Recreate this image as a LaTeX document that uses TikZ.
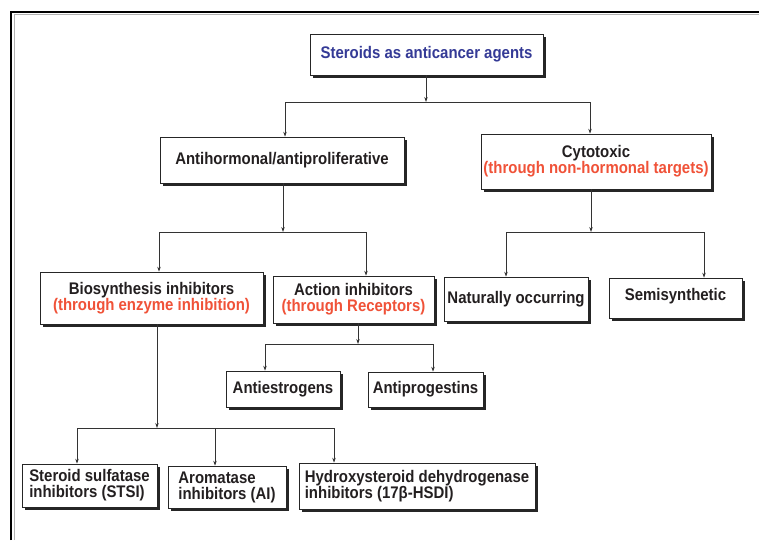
\documentclass[tikz,border=0pt]{standalone}
\usepackage{fontspec}
\setmainfont[FakeStretch=0.89]{Liberation Sans}
\usetikzlibrary{arrows.meta,shadows}
\definecolor{titleblue}{RGB}{52,58,150}
\definecolor{notered}{RGB}{240,82,56}
\definecolor{ink}{RGB}{35,31,32}
\newcommand{\via}[1]{\textcolor{notered}{#1}}
\tikzset{
  box/.style={draw=black!85, line width=0.6pt, fill=white, inner sep=0pt, align=center,
    text=ink, font=\fontsize{16.8}{16}\selectfont\bfseries,
    drop shadow={shadow xshift=2.6pt, shadow yshift=-2.6pt, fill=black!85, opacity=1}},
  conn/.style={draw=black!80, line width=0.7pt, -{Stealth[length=5pt,width=3.4pt]}}
}

\begin{document}
\begin{tikzpicture}[x=1pt, y=-1pt]
		%%%%% START %%%%%
		\useasboundingbox (0, 0) rectangle (759, 540);
		
		% frame
		\draw[black!30, line width=0.8pt] (14, 540) -- (14, 14.5) -- (759, 14.5);
		\draw[black, line width=1.3pt] (11, 540) -- (11, 12) -- (759, 12);
		
		% boxes
		\node[box, minimum width=233pt, minimum height=41pt, text=titleblue] (top) at (426.5, 54.5) {Steroids as anticancer agents};
		\node[box, minimum width=244pt, minimum height=46pt] (anti) at (282, 160) {Antihormonal/antiproliferative};
		\node[box, minimum width=230pt, minimum height=55pt] (cyto) at (596, 161.5) {Cytotoxic\\\via{(through non-hormonal targets)}};
		
		\node[box, minimum width=223pt, minimum height=52pt] (bio) at (151.5, 298) {Biosynthesis inhibitors\\\via{(through enzyme inhibition)}};
		\node[box, minimum width=161pt, minimum height=47pt] (act) at (353.5, 299.5) {Action inhibitors\\\via{(through Receptors)}};
		\node[box, minimum width=144pt, minimum height=44pt] (nat) at (516, 299) {Naturally occurring};
		\node[box, minimum width=133pt, minimum height=40pt] (semi) at (675.5, 298) {\raisebox{7pt}{Semisynthetic}};
		
		\node[box, minimum width=114pt, minimum height=36pt] (antie) at (283, 389) {Antiestrogens};
		\node[box, minimum width=115pt, minimum height=35pt] (antip) at (425.5, 389.5) {Antiprogestins};
		
		\node[box, minimum width=135pt, minimum height=43pt, align=left] (stsi) at (89.5, 485.5) {Steroid sulfatase\\inhibitors (STSI)};
		\node[box, minimum width=118pt, minimum height=42pt, align=left] (ai) at (227, 487) {Aromatase\\inhibitors (AI)};
		\node[box, minimum width=236pt, minimum height=46pt, align=left] (hsdi) at (417, 486) {Hydroxysteroid dehydrogenase\\inhibitors (17β-HSDI)};
		
		% junctions
		\coordinate (b1) at (426, 102);  \coordinate (b1l) at (285, 102);  \coordinate (b1r) at (590, 102);
		\coordinate (b2) at (283, 232);  \coordinate (b2l) at (159, 232);  \coordinate (b2r) at (366, 232);
		\coordinate (b3) at (591, 232);  \coordinate (b3l) at (506, 232);  \coordinate (b3r) at (704, 232);
		\coordinate (b4) at (358, 344);  \coordinate (b4l) at (265, 344);  \coordinate (b4r) at (433, 344);
		\coordinate (b5) at (157, 428);  \coordinate (b5l) at (77, 428);   \coordinate (b5m) at (215, 428);
		\coordinate (b5r) at (334, 428);
		
		% connectors
		\draw[conn] (top.south -| b1) -- (b1);
		\draw[conn] (b1) -| (anti.north -| b1l);
		\draw[conn] (b1) -| (cyto.north -| b1r);
		
		\draw[conn] (anti.south -| b2) -- (b2);
		\draw[conn] (b2) -| (bio.north -| b2l);
		\draw[conn] (b2) -| (act.north -| b2r);
		
		\draw[conn] (cyto.south -| b3) -- (b3);
		\draw[conn] (b3) -| (nat.north -| b3l);
		\draw[conn] (b3) -| (semi.north -| b3r);
		
		\draw[conn] (act.south -| b4) -- (b4);
		\draw[conn] (b4) -| (antie.north -| b4l);
		\draw[conn] (b4) -| (antip.north -| b4r);
		
		\draw[conn] (bio.south -| b5) -- (b5);
		\draw[conn] (b5) -| (stsi.north -| b5l);
		\draw[conn] (b5) -| (ai.north -| b5m);
		\draw[conn] (b5) -| (hsdi.north -| b5r);
		
		%%%%% END %%%%%
\end{tikzpicture}
\end{document}
